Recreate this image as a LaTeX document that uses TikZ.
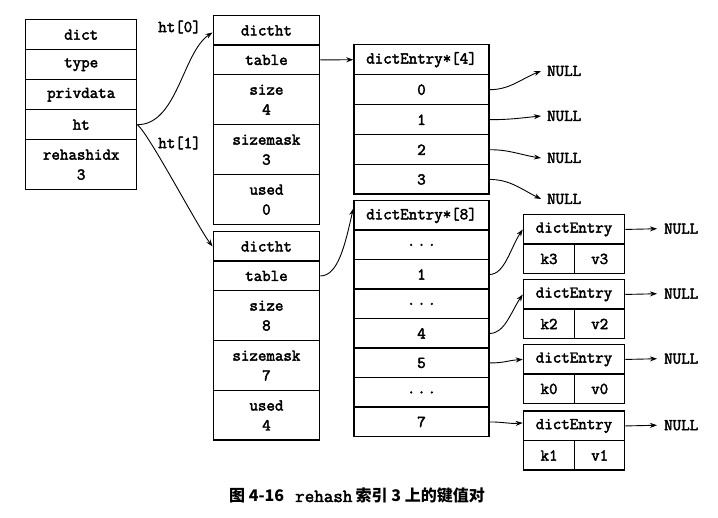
\documentclass[tikz,border=0pt]{standalone}
\usepackage{fontspec}
\newfontfamily\cour{Latin Modern Mono}[FakeBold=2.6]
\newfontfamily\cjk{Noto Sans CJK SC}
\usetikzlibrary{arrows.meta}
\newcommand{\dotsx}{.\kern1.8pt.\kern1.8pt.}
\begin{document}
\begin{tikzpicture}[x=1pt,y=-1pt,
  cell/.style={draw, line width=1.4pt, inner sep=0pt, anchor=north west, align=center,
    font=\cour\fontsize{16.5}{20}\selectfont},
  conn/.style={line width=0.9pt, -{Stealth[length=7pt,width=5pt]}},
  lbl/.style={inner sep=0pt, font=\cour\fontsize{16.5}{20}\selectfont},
  nul/.style={inner ysep=0pt, anchor=west, font=\cour\fontsize{16.5}{20}\selectfont}]
\useasboundingbox (0,0) rectangle (718,518);
% dict
\node[cell, minimum width=111pt, minimum height=30pt] (dname) at (25,19) {dict};
\node[cell, minimum width=111pt, minimum height=30pt] (dtype) at (25,49) {type};
\node[cell, minimum width=111pt, minimum height=30pt] (dpriv) at (25,79) {privdata};
\node[cell, minimum width=111pt, minimum height=30pt] (ht) at (25,109) {ht};
\node[cell, minimum width=111pt, minimum height=50pt] (drh) at (25,139) {rehashidx\\3};
% dictht 0
\node[cell, minimum width=106.5pt, minimum height=29.5pt] (h0hdr) at (212.5,15) {dictht};
\node[cell, minimum width=106.5pt, minimum height=29.5pt] (t0) at (212.5,44.5) {table};
\node[cell, minimum width=106.5pt, minimum height=50pt] (s0) at (212.5,74) {size\\4};
\node[cell, minimum width=106.5pt, minimum height=50pt] (m0) at (212.5,124) {sizemask\\3};
\node[cell, minimum width=106.5pt, minimum height=50pt] (u0) at (212.5,174) {used\\0};
% dictht 1
\node[cell, minimum width=106.5pt, minimum height=29.5pt] (h1hdr) at (212.5,231) {dictht};
\node[cell, minimum width=106.5pt, minimum height=29.5pt] (t1) at (212.5,260.5) {table};
\node[cell, minimum width=106.5pt, minimum height=50pt] (s1) at (212.5,290) {size\\8};
\node[cell, minimum width=106.5pt, minimum height=50pt] (m1) at (212.5,340) {sizemask\\7};
\node[cell, minimum width=106.5pt, minimum height=49.5pt] (u1) at (212.5,390) {used\\4};
% array 4
\node[cell, minimum width=135pt, minimum height=30pt] (a4h) at (353.3,44) {dictEntry*[4]};
\node[cell, minimum width=135pt, minimum height=30pt] (a4r0) at (353.3,74) {0};
\node[cell, minimum width=135pt, minimum height=30pt] (a4r1) at (353.3,104) {1};
\node[cell, minimum width=135pt, minimum height=30pt] (a4r2) at (353.3,134) {2};
\node[cell, minimum width=135pt, minimum height=29.5pt] (a4r3) at (353.3,164) {3};
% array 8
\node[cell, minimum width=135pt, minimum height=29.5pt] (a8h) at (353.3,200) {dictEntry*[8]};
\node[cell, minimum width=135pt, minimum height=29.5pt] (a8r0) at (353.3,229.5) {\dotsx};
\node[cell, minimum width=135pt, minimum height=29.5pt] (a8r1) at (353.3,259) {1};
\node[cell, minimum width=135pt, minimum height=29.5pt] (a8r2) at (353.3,288.5) {\dotsx};
\node[cell, minimum width=135pt, minimum height=29.5pt] (a8r4) at (353.3,318) {4};
\node[cell, minimum width=135pt, minimum height=29.5pt] (a8r5) at (353.3,347.5) {5};
\node[cell, minimum width=135pt, minimum height=29.5pt] (a8r6) at (353.3,377) {\dotsx};
\node[cell, minimum width=135pt, minimum height=29.5pt] (a8r7) at (353.3,406.5) {7};
% dictEntry boxes
\node[cell, minimum width=101.3pt, minimum height=29.5pt] (e1h) at (522.7,214) {dictEntry};
\node[cell, minimum width=51.3pt, minimum height=29.5pt] (e1k) at (522.7,243.5) {k3};
\node[cell, minimum width=50pt, minimum height=29.5pt] (e1v) at (574,243.5) {v3};
\node[cell, minimum width=101.3pt, minimum height=29.5pt] (e2h) at (522.7,279) {dictEntry};
\node[cell, minimum width=51.3pt, minimum height=29.5pt] (e2k) at (522.7,308.5) {k2};
\node[cell, minimum width=50pt, minimum height=29.5pt] (e2v) at (574,308.5) {v2};
\node[cell, minimum width=101.3pt, minimum height=29.5pt] (e3h) at (522.7,344) {dictEntry};
\node[cell, minimum width=51.3pt, minimum height=29.5pt] (e3k) at (522.7,373.5) {k0};
\node[cell, minimum width=50pt, minimum height=29.5pt] (e3v) at (574,373.5) {v0};
\node[cell, minimum width=101.3pt, minimum height=29.5pt] (e4h) at (522.7,410.5) {dictEntry};
\node[cell, minimum width=51.3pt, minimum height=29.5pt] (e4k) at (522.7,440) {k1};
\node[cell, minimum width=50pt, minimum height=29.5pt] (e4v) at (574,440) {v1};
% labels
\node[lbl] (l0) at (179.5,27) {ht[0]};
\node[lbl] (l1) at (179.5,143) {ht[1]};
% NULLs
\node[nul, inner xsep=6pt] (n0) at (541,71) {NULL};
\node[nul, inner xsep=6pt] (n1) at (541,116) {NULL};
\node[nul, inner xsep=6pt] (n2) at (541,158) {NULL};
\node[nul, inner xsep=6pt] (n3) at (541,199) {NULL};
\node[nul, inner xsep=7pt] (q1) at (657,228.75) {NULL};
\node[nul, inner xsep=7pt] (q2) at (657,293.75) {NULL};
\node[nul, inner xsep=7pt] (q3) at (657,358.75) {NULL};
\node[nul, inner xsep=7pt] (q4) at (657,425.25) {NULL};
% connectors
\draw[conn] (ht.east) .. controls +(40,0) and +(-30,20) .. ([yshift=-2pt]h0hdr.west);
\draw[conn] (ht.east) .. controls +(12,10) and +(-15,-20) .. (h1hdr.west);
\draw[conn] (t0.east) -- (a4h.west);
\draw[conn] (t1.east) .. controls +(18,0) and +(-8,35) .. ([yshift=7pt]a8h.west);
\draw[conn] (a4r0.east) .. controls +(20,0) and +(-20,8) .. (n0.west);
\draw[conn] (a4r1.east) .. controls +(20,0) and +(-20,2) .. (n1.west);
\draw[conn] (a4r2.east) .. controls +(20,0) and +(-20,-3) .. (n2.west);
\draw[conn] (a4r3.east) .. controls +(20,0) and +(-20,-10) .. (n3.west);
\draw[conn] (a8r1.east) .. controls +(15,0) and +(-12,18) .. (e1h.west);
\draw[conn] (a8r4.east) .. controls +(15,0) and +(-12,18) .. (e2h.west);
\draw[conn] (a8r5.east) .. controls +(15,0) and +(-15,1) .. (e3h.west);
\draw[conn] (a8r7.east) .. controls +(15,0) and +(-15,1) .. ([yshift=3pt]e4h.west);
\draw[conn] (e1h.east) -- (q1.west);
\draw[conn] (e2h.east) -- (q2.west);
\draw[conn] (e3h.east) -- (q3.west);
\draw[conn] (e4h.east) -- (q4.west);
% caption
\node[inner sep=0pt] (cap) at (357,496) {{\cjk\fontsize{16}{18}\selectfont\bfseries 图 4-16}\hspace{1.1em}{\cour\fontsize{18.5}{18}\selectfont rehash} {\cjk\fontsize{16}{18}\selectfont\bfseries 索引 3 上的键值对}};
\end{tikzpicture}
\end{document}
